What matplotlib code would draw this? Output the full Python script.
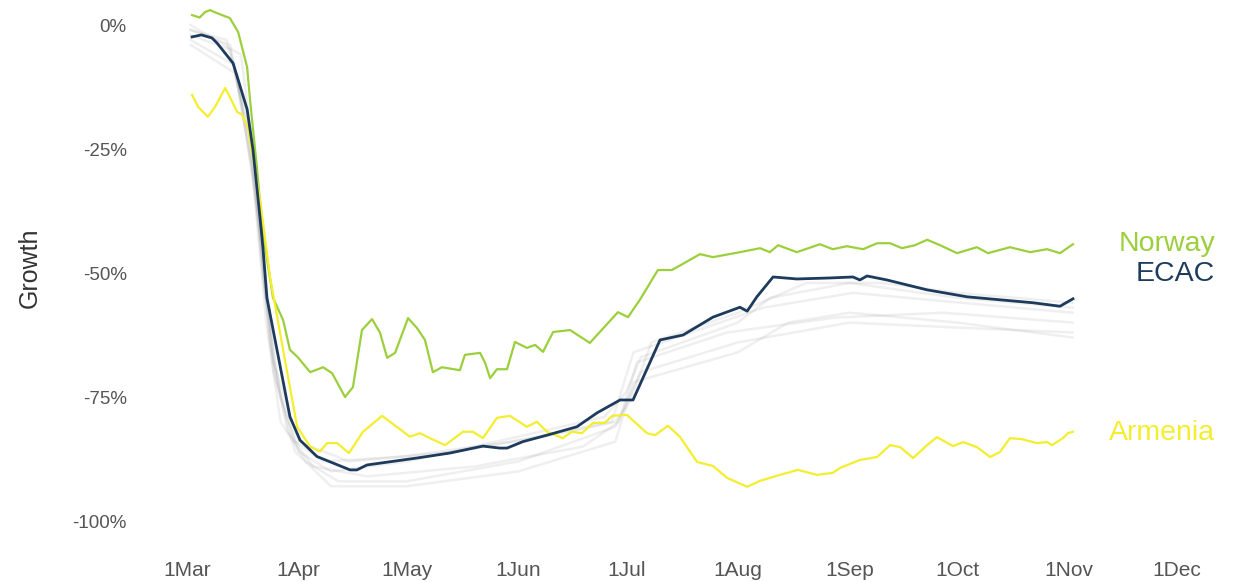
import matplotlib
matplotlib.use("Agg")
import matplotlib.pyplot as plt
import numpy as np
import pandas as pd

plt.rcParams['font.family'] = ['Liberation Sans', 'DejaVu Sans']

BASE = pd.Timestamp("2020-03-01")

# ---- data: day offsets from 1 Mar and growth (%) ----
ecac_day = [1.4, 4, 6.9, 8.3, 12.8, 16.7, 18.3, 20.3, 21.1, 22.2, 25, 28.6, 31.4, 36.1, 45.3, 47.2, 50,
            63.9, 73, 82.2, 86.9, 88.9, 93.3, 100, 108.3, 113.9, 120.3, 123.9, 131.4, 137.8, 146.1,
            153.6, 155.6, 158.3, 162.8, 169.4, 178.6, 185, 186.9, 188.9, 194.4, 205.6, 216.7, 225.8,
            235, 242.5, 246.1]
ecac_val = [-2.4, -2.0, -2.6, -3.6, -7.7, -17, -25, -39, -45, -55, -65.5, -79, -83.7, -87, -89.7, -89.7, -88.7,
            -87.3, -86.3, -84.9, -85.3, -85.3, -84, -82.7, -81, -78.2, -75.6, -75.6, -63.5, -62.5, -58.9,
            -56.9, -57.7, -54.8, -50.8, -51.2, -51, -50.8, -51.4, -50.6, -51.4, -53.4, -54.8, -55.4,
            -56, -56.7, -55.2]

norway_day = [1.4, 3.5, 5, 6.4, 8.3, 11.9, 14.2, 16.7, 17.5, 19.4, 21.1, 23.9, 26.7, 28.6, 30.8, 34.2, 37.8,
              40.3, 43.9, 46.1, 48.6, 51.4, 53.6, 55.6, 57.8, 61.4, 63.9, 66.1, 68.3, 70.8, 75.8, 77.2,
              81.4, 82.8, 84.2, 86.1, 88.9, 91.1, 94.4, 96.7, 98.9, 101.7, 106.4, 111.9, 119.7, 122.5,
              125.8, 130.8, 134.7, 142.5, 146.1, 153.6, 159.2, 161.9, 164.2, 169.4, 175.8, 179.4, 183.3,
              187.8, 191.7, 195.3, 198.6, 202.2, 205.6, 209.2, 213.9, 219.4, 222.5, 228.6, 234.2, 238.9,
              242.5, 246.1]
norway_val = [2, 1.5, 2.6, 3, 2.4, 1.4, -1.4, -8.5, -15, -28.6, -42, -55, -59.5, -65.5, -67, -70, -69,
              -70.2, -75, -73, -61.5, -59.3, -62, -67.1, -66.1, -59.1, -61.1, -63.5, -70, -69, -69.6, -66.5,
              -66.1, -68.1, -71.2, -69.4, -69.4, -63.9, -65.1, -64.5, -65.9, -61.9, -61.5, -64.1, -57.9, -58.9,
              -55.4, -49.4, -49.4, -46.2, -46.8, -45.8, -45, -45.8, -44.4, -45.8, -44.2, -45.2, -44.6,
              -45.2, -44, -44, -45, -44.4, -43.3, -44.4, -46, -44.8, -46, -44.8, -45.8, -45.2,
              -46, -44.2]

armenia_day = [1.4, 3.1, 5.8, 7.8, 10.6, 11.9, 13.9, 15.3, 16.9, 20.3, 23.1, 26.7, 30.6, 34.2, 36.9, 38.9,
               41.7, 45, 48.9, 54.2, 56.4, 61.9, 64.7, 67.5, 71.7, 76.7, 79.4, 82.2, 86.1, 89.7, 94.4, 97.2,
               100, 104.4, 106.9, 109.7, 112.8, 116.1, 118.1, 122.2, 125.8, 127.8, 130, 133.6, 136.9, 141.7,
               146.1, 150, 155.6, 159.2, 164.7, 169.7, 175, 179.4, 181.4, 186.9, 191.7, 195.3, 198.1, 201.7,
               205.6, 208.3, 212.8, 215.6, 219.4, 223.1, 225.8, 228.6, 231.9, 236.1, 238.9, 240.3, 243.3,
               244.7, 246.1]
armenia_val = [-14.1, -16.5, -18.5, -16.5, -12.7, -14.5, -17.5, -18.1, -20.6, -35.3, -51, -65.5, -81, -85, -86, -84.3,
               -84.3, -86.3, -82, -78.8, -80, -83, -82.3, -83.3, -84.7, -82, -82, -83.3, -79.2, -78.8, -81, -80,
               -82, -83.3, -82, -82.3, -80.2, -80.2, -78.8, -78.6, -81, -82.3, -82.7, -80.8, -83, -88.1,
               -88.9, -91.3, -93.1, -91.9, -90.7, -89.7, -90.7, -90.3, -89.3, -87.7, -87.1, -84.7, -85.1, -87.3,
               -84.7, -83.1, -84.9, -84.1, -85.1, -87.1, -86.1, -83.3, -83.5, -84.3, -84.1, -84.7, -83.3,
               -82.3, -82]

# faint grey background series (other states)
grey_days = [
    [1, 12, 18, 22, 26, 31, 40, 61, 92, 116, 122, 126, 153, 162, 184, 214, 246],
    [1, 12, 18, 22, 26, 33, 42, 61, 92, 119, 126, 153, 184, 214, 246],
    [1, 14, 20, 24, 30, 40, 61, 92, 119, 124, 153, 167, 184, 214, 246],
    [1, 15, 20, 24, 31, 45, 75, 106, 119, 123, 129, 153, 172, 193, 214, 246],
    [1, 13, 19, 23, 28, 35, 50, 80, 110, 120, 125, 150, 180, 210, 246],
    [1, 11, 17, 21, 25, 30, 38, 60, 90, 118, 121, 124, 140, 160, 185, 215, 246],
]
grey_vals = [
    [-2, -5, -25, -55, -75, -86, -90, -88, -83, -79, -74, -67, -60, -55, -52, -55, -57],
    [-1, -4, -28, -60, -80, -88, -92, -92, -88, -81, -70, -64, -60, -61, -62],
    [-4, -10, -40, -70, -86, -93, -93, -90, -84, -72, -66, -60, -58, -60, -63],
    [0, -6, -35, -68, -84, -88, -86, -82, -80, -76, -64, -58, -52, -52, -54, -56],
    [-3, -8, -33, -64, -82, -89, -91, -89, -85, -80, -68, -62, -59, -58, -60],
    [-1, -3, -20, -50, -72, -84, -88, -87, -84, -80, -73, -66, -62, -57, -54, -56, -58],
]

tick_dates = ["2020-03-01", "2020-04-01", "2020-05-01", "2020-06-01", "2020-07-01",
              "2020-08-01", "2020-09-01", "2020-10-01", "2020-11-01", "2020-12-01"]
tick_labels = ["1Mar", "1Apr", "1May", "1Jun", "1Jul", "1Aug", "1Sep", "1Oct", "1Nov", "1Dec"]
y_ticks = [0, -25, -50, -75, -100]
y_labels = ["0%", "-25%", "-50%", "-75%", "-100%"]

C_NOR = "#9ccf3c"
C_ECAC = "#1d3b5c"
C_ARM = "#f3ee2e"

def to_dates(days):
    return BASE + pd.to_timedelta(np.asarray(days), unit="D")

fig = plt.figure(figsize=(12.47, 5.82), dpi=100)
ax = fig.add_axes([135/1247, 34/582, (1225-135)/1247, (577-34)/582])

for d, v in zip(grey_days, grey_vals):
    ax.plot(to_dates(d), v, color="#555555", alpha=0.09, lw=1.8, zorder=1)

ax.plot(to_dates(norway_day), norway_val, color=C_NOR, lw=1.6, zorder=3)
ax.plot(to_dates(armenia_day), armenia_val, color=C_ARM, lw=1.6, zorder=3)
ax.plot(to_dates(ecac_day), ecac_val, color=C_ECAC, lw=2.0, zorder=4)

x_left = BASE - pd.Timedelta(days=52/3.6)
x_right = pd.Timestamp("2020-12-01") + pd.Timedelta(days=48/3.6)
ax.set_xlim(x_left, x_right)
ax.set_ylim(-100 - (548-521)/4.96, 0 + (25-5)/4.96)

ax.set_xticks(pd.to_datetime(tick_dates))
ax.set_xticklabels(tick_labels)
ax.set_yticks(y_ticks)
ax.set_yticklabels(y_labels)
ax.tick_params(axis="both", length=0, labelcolor="#555555")
ax.tick_params(axis="x", pad=9, labelsize=15)
ax.tick_params(axis="y", pad=6, labelsize=13.5)
for s in ax.spines.values():
    s.set_visible(False)

label_x = pd.Timestamp("2020-12-01") + pd.Timedelta(days=(1215-1177)/3.6)
ax.text(label_x, -44.2, "Norway", color=C_NOR, fontsize=20.5, ha="right", va="center", clip_on=False)
ax.text(label_x, -50.3, "ECAC", color=C_ECAC, fontsize=20.5, ha="right", va="center", clip_on=False)
ax.text(label_x, -82.3, "Armenia", color=C_ARM, fontsize=20.5, ha="right", va="center", clip_on=False)

fig.text(30/1247, 1 - 268/582, "Growth", rotation=90, fontsize=18, color="#333333",
         ha="center", va="center")

fig.savefig("out.png", dpi=100)
